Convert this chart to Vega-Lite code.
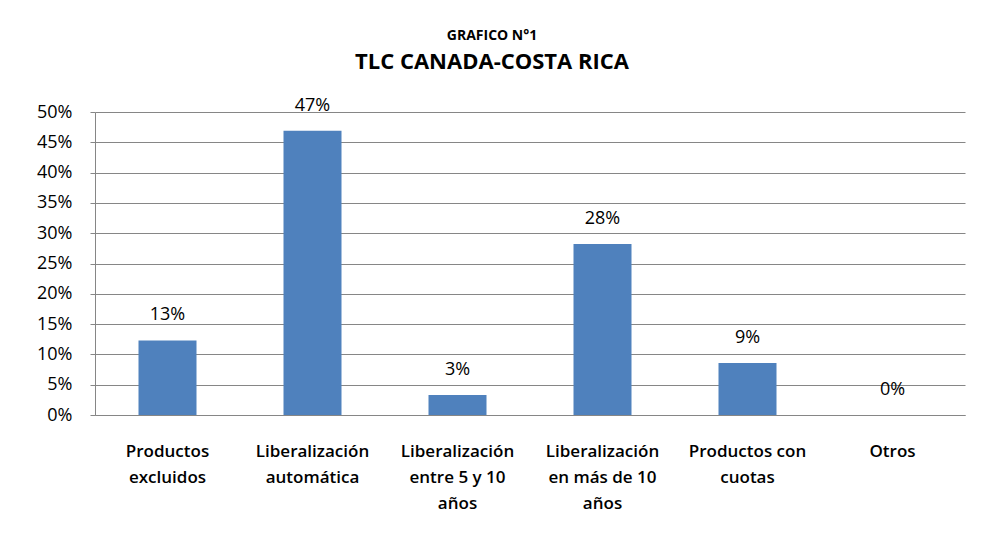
{
  "$schema": "https://vega.github.io/schema/vega-lite/v6.json",
  "width": 870,
  "height": 303,
  "autosize": {"type": "none"},
  "padding": {"left": 95, "top": 112, "right": 19, "bottom": 122},
  "background": "white",
  "config": {
    "font": "Open Sans",
    "view": {"stroke": null}
  },
  "title": {
    "text": "GRAFICO N°1",
    "subtitle": "TLC CANADA-COSTA RICA",
    "anchor": "middle",
    "dx": -38,
    "offset": 24,
    "font": "Open Sans",
    "fontSize": 14,
    "fontWeight": "bold",
    "color": "black",
    "subtitleFont": "Open Sans",
    "subtitleFontSize": 22,
    "subtitleFontWeight": "bold",
    "subtitleColor": "black",
    "subtitlePadding": 9
  },
  "data": {
    "values": [
      {"categoria": "Productos excluidos", "valor": 0.123, "etiqueta": "13%"},
      {"categoria": "Liberalización automática", "valor": 0.469, "etiqueta": "47%"},
      {"categoria": "Liberalización entre 5 y 10 años", "valor": 0.033, "etiqueta": "3%"},
      {"categoria": "Liberalización en más de 10 años", "valor": 0.282, "etiqueta": "28%"},
      {"categoria": "Productos con cuotas", "valor": 0.086, "etiqueta": "9%"},
      {"categoria": "Otros", "valor": 0, "etiqueta": "0%"}
    ]
  },
  "encoding": {
    "x": {
      "field": "categoria",
      "type": "nominal",
      "sort": null,
      "scale": {"paddingInner": 0.6, "paddingOuter": 0.3},
      "axis": {
        "title": null,
        "labelAngle": 0,
        "labelFont": "Open Sans",
        "labelFontSize": 17,
        "labelFontWeight": 600,
        "labelColor": "black",
        "labelPadding": 28,
        "labelLineHeight": 26,
        "labelLimit": 200,
        "ticks": false,
        "domainColor": "#868686",
        "labelExpr": "datum.value == 'Productos excluidos' ? ['Productos', 'excluidos'] : datum.value == 'Liberalización automática' ? ['Liberalización', 'automática'] : datum.value == 'Liberalización entre 5 y 10 años' ? ['Liberalización', 'entre 5 y 10', 'años'] : datum.value == 'Liberalización en más de 10 años' ? ['Liberalización', 'en más de 10', 'años'] : datum.value == 'Productos con cuotas' ? ['Productos con', 'cuotas'] : datum.value"
      }
    },
    "y": {
      "field": "valor",
      "type": "quantitative",
      "scale": {"domain": [0, 0.5], "nice": false},
      "axis": {
        "title": null,
        "format": ".0%",
        "values": [0, 0.05, 0.1, 0.15, 0.2, 0.25, 0.3, 0.35, 0.4, 0.45, 0.5],
        "labelFont": "Open Sans",
        "labelFontSize": 18,
        "labelColor": "black",
        "labelPadding": 18,
        "tickSize": 5,
        "tickColor": "#868686",
        "domainColor": "#868686",
        "gridColor": "#868686",
        "gridWidth": 1
      }
    }
  },
  "layer": [
    {"mark": {"type": "bar", "color": "#4F81BD"}},
    {
      "mark": {"type": "text", "dy": -25, "baseline": "middle", "fontSize": 18, "font": "Open Sans", "color": "black"},
      "encoding": {"text": {"field": "etiqueta"}}
    }
  ]
}
